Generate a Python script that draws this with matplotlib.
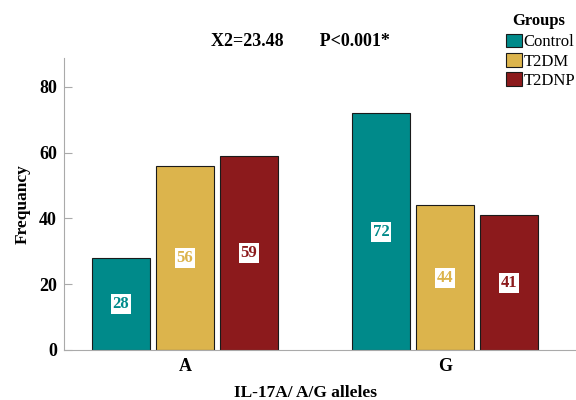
import numpy as np
import matplotlib.pyplot as plt

groups = ['Control', 'T2DM', 'T2DNP']
alleles = ['A', 'G']
control = [28, 72]
t2dm = [56, 44]
t2dnp = [59, 41]
colors = ['#008a8a', '#dcb44c', '#8c1a1c']

plt.rcParams['font.family'] = 'Liberation Serif'
plt.rcParams['font.weight'] = 'bold'

fig = plt.figure(figsize=(5.76, 4.0), dpi=100)
ax = fig.add_axes([64 / 576, 1 - 350 / 400, 511 / 576, (350 - 58) / 400])

x = np.arange(len(alleles))
width = 0.223
step = 0.246
for i, (vals, name, c) in enumerate(zip([control, t2dm, t2dnp], groups, colors)):
    pos = x + (i - 1) * step
    ax.bar(pos, vals, width, color=c, edgecolor='#1a1a1a', linewidth=0.8, label=name)
    for p, v in zip(pos, vals):
        ax.text(p, v / 2, str(v), ha='center', va='center', color=c,
                fontsize=12, fontweight='bold',
                bbox=dict(facecolor='white', edgecolor='none', pad=1.5))

ax.set_xlim(-0.465, 1.5)
ax.set_ylim(0, 88.8)
ax.set_yticks([0, 20, 40, 60, 80])
ax.set_xticks(x)
ax.set_xticklabels(alleles)
ax.tick_params(axis='y', direction='in', length=6, color='#aaaaaa', labelsize=13, pad=5)
ax.tick_params(axis='x', length=0, labelsize=13, pad=6)
for s in ['top', 'right']:
    ax.spines[s].set_visible(False)
for s in ['left', 'bottom']:
    ax.spines[s].set_color('#aaaaaa')

ax.set_ylabel('Frequancy', fontsize=12.5, fontweight='bold', labelpad=6)
fig.text(305 / 576, 1 - 393 / 400, 'IL-17A/ A/G alleles', ha='center', va='center',
         fontsize=12.5, fontweight='bold')
fig.text(0.522, 1 - 42 / 400, 'X2=23.48        P<0.001*', ha='center', va='center',
         fontsize=13, fontweight='bold')

# legend title drawn separately so it can sit a bit above the entries
fig.text(539 / 576, 1 - 21 / 400, 'Groups', ha='center', va='center',
         fontsize=12, fontweight='bold')
leg = fig.legend(loc='upper left', bbox_to_anchor=(506 / 576, 1 - 34 / 400), frameon=False,
                 fontsize=12, handlelength=0.95, handleheight=0.85, handletextpad=0.1,
                 labelspacing=0.17, borderpad=0, borderaxespad=0)
for h in leg.legend_handles:
    h.set_edgecolor('#1a1a1a')
for t in leg.get_texts():
    t.set_fontweight('normal')

fig.savefig('out.png', dpi=100)
